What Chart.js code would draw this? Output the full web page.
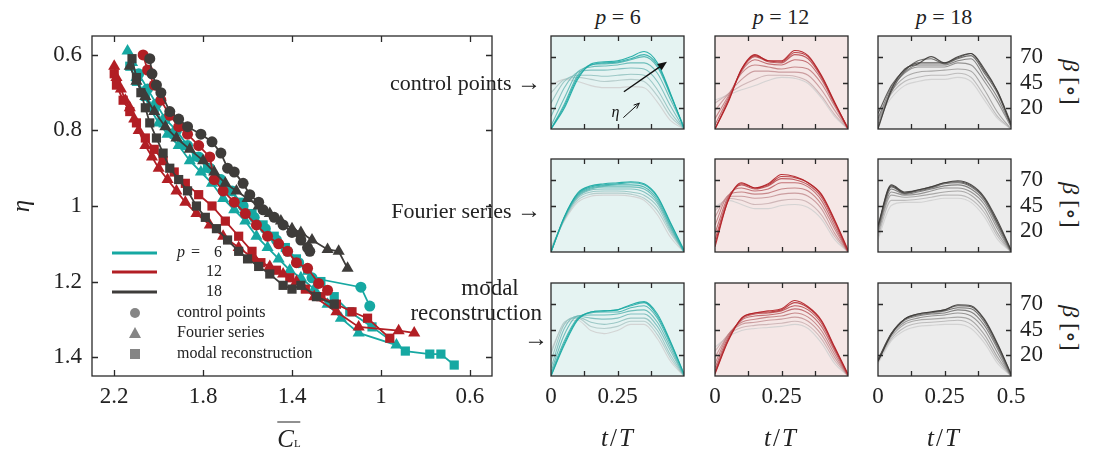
<!DOCTYPE html>
<html>
<head>
<meta charset="utf-8">
<script src="https://cdn.jsdelivr.net/npm/chart.js@4.4.1/dist/chart.umd.min.js"></script>
<style>
  body { margin: 0; background: #fff; width: 1097px; height: 454px; position: relative; overflow: hidden;
         font-family: "Liberation Serif", "DejaVu Serif", serif; color: #222; }
  canvas { position: absolute; }
  .lbl { position: absolute; white-space: nowrap; line-height: 1; font-size: 22px; }
  .c { transform: translate(-50%, -50%); }
  .r { transform: translate(-100%, -50%); }
  i { font-style: italic; }
</style>
</head>
<body>
<canvas id="pareto" width="520" height="454" style="left:0;top:0"></canvas>

<!-- axis titles, left plot -->
<div class="lbl" style="left:20px;top:206px;font-size:25px;transform:translate(-50%,-50%) rotate(-90deg)"><i>η</i></div>
<div class="lbl c" style="left:289px;top:436px;font-size:25px">
  <span style="display:inline-block;border-top:1.4px solid #222;padding-top:3px"><i>C</i><span style="font-size:11px">L</span></span>
</div>

<!-- column titles -->
<div class="lbl c" style="left:618px;top:17px"><i>p</i> = 6</div>
<div class="lbl c" style="left:781px;top:17px"><i>p</i> = 12</div>
<div class="lbl c" style="left:944px;top:17px"><i>p</i> = 18</div>

<!-- row titles -->
<div class="lbl r" style="left:541px;top:82px">control points <span style="font-size:24px">→</span></div>
<div class="lbl r" style="left:541px;top:210px">Fourier series <span style="font-size:24px">→</span></div>
<div class="lbl c" style="left:490px;top:287px;font-size:23px">modal</div>
<div class="lbl r" style="left:542px;top:312px;font-size:23px">reconstruction</div>
<div class="lbl c" style="left:536px;top:338px;font-size:24px">→</div>

<!-- bottom titles -->
<div class="lbl c" style="left:618px;top:437px;font-size:25px;letter-spacing:2px"><i>t</i>/<i>T</i></div>
<div class="lbl c" style="left:781px;top:437px;font-size:25px;letter-spacing:2px"><i>t</i>/<i>T</i></div>
<div class="lbl c" style="left:944px;top:437px;font-size:25px;letter-spacing:2px"><i>t</i>/<i>T</i></div>

<!-- beta labels -->
<div class="lbl c" style="left:1071px;top:82px;font-size:24px;transform:translate(-50%,-50%) rotate(90deg)"><i>β</i> [∘]</div>
<div class="lbl c" style="left:1071px;top:205px;font-size:24px;transform:translate(-50%,-50%) rotate(90deg)"><i>β</i> [∘]</div>
<div class="lbl c" style="left:1071px;top:328px;font-size:24px;transform:translate(-50%,-50%) rotate(90deg)"><i>β</i> [∘]</div>

<script>
// ---- Pareto fronts (CL bar vs eta) ----
const clTicks = [2.2, 1.8, 1.4, 1, 0.6];
const etaTicks = [0.6, 0.8, 1, 1.2, 1.4];

// p = 6
const cl6c  = [2.09,2.05,2.01,1.97,1.92,1.87,1.82,1.77,1.72,1.67,1.62,1.57,1.52,1.47,1.42,1.37,1.31,1.09,1.05];
const eta6c = [0.65,0.69,0.73,0.77,0.80,0.84,0.87,0.90,0.93,0.96,1.00,1.03,1.06,1.09,1.12,1.15,1.19,1.215,1.265];
const cl6f  = [2.14,2.12,2.10,2.07,2.04,2.00,1.96,1.91,1.86,1.81,1.76,1.71,1.66,1.61,1.56,1.51,1.46,1.41,1.36,1.30,1.24,1.18,1.10,0.93];
const eta6f = [0.59,0.62,0.66,0.70,0.74,0.78,0.81,0.84,0.88,0.91,0.94,0.98,1.01,1.04,1.08,1.11,1.14,1.17,1.19,1.22,1.26,1.297,1.336,1.368];
const cl6m  = [2.13,2.10,2.06,2.02,1.98,1.93,1.88,1.83,1.78,1.73,1.68,1.63,1.58,1.53,1.48,1.43,1.38,1.33,1.27,1.21,1.14,1.04,0.89,0.78,0.73,0.67];
const eta6m = [0.63,0.67,0.71,0.74,0.78,0.81,0.84,0.87,0.90,0.93,0.96,0.99,1.02,1.05,1.08,1.11,1.14,1.17,1.20,1.24,1.28,1.32,1.384,1.392,1.392,1.421];
// p = 12
const cl12c  = [2.07,2.05,2.02,1.99,1.95,1.91,1.87,1.82,1.77,1.75,1.71,1.66,1.61,1.56,1.51,1.46,1.42,1.38,1.33,1.28,1.24];
const eta12c = [0.60,0.64,0.68,0.72,0.76,0.79,0.81,0.84,0.87,0.93,0.96,0.99,1.02,1.05,1.08,1.10,1.12,1.15,1.165,1.205,1.223];
const cl12f  = [2.20,2.19,2.17,2.15,2.13,2.11,2.09,2.06,2.03,2.00,1.96,1.92,1.88,1.83,1.77,1.71,1.64,1.57,1.50,1.44,1.38,1.30,1.20,1.10,0.92,0.85];
const eta12f = [0.63,0.66,0.69,0.72,0.74,0.77,0.80,0.84,0.87,0.90,0.93,0.96,0.99,1.02,1.05,1.08,1.11,1.14,1.16,1.18,1.20,1.24,1.28,1.32,1.33,1.336];
const cl12m  = [2.20,2.19,2.16,2.13,2.10,2.06,2.02,1.98,1.93,1.88,1.82,1.76,1.70,1.64,1.58,1.54,1.47,1.41,1.34,1.27,1.20,1.13,1.06,0.96];
const eta12m = [0.65,0.68,0.72,0.75,0.78,0.82,0.85,0.88,0.91,0.94,0.97,1.00,1.04,1.08,1.12,1.15,1.17,1.19,1.22,1.24,1.26,1.28,1.297,1.35];
// p = 18
const cl18c  = [2.04,2.03,2.01,1.99,1.95,1.91,1.87,1.81,1.76,1.72,1.69,1.66,1.62,1.59,1.55,1.53,1.48,1.44,1.40,1.36,1.33,1.32];
const eta18c = [0.61,0.65,0.68,0.70,0.75,0.77,0.79,0.81,0.83,0.86,0.90,0.91,0.94,0.97,0.99,1.01,1.03,1.05,1.07,1.09,1.11,1.12];
const cl18f  = [2.13,2.10,2.06,2.02,1.97,1.92,1.86,1.80,1.75,1.70,1.65,1.60,1.55,1.50,1.45,1.40,1.36,1.31,1.24,1.19,1.15];
const eta18f = [0.63,0.67,0.71,0.75,0.79,0.82,0.85,0.88,0.91,0.94,0.96,0.98,1.00,1.02,1.04,1.06,1.07,1.09,1.115,1.12,1.165];
const cl18m  = [2.12,2.10,2.08,2.06,2.04,2.01,1.98,1.95,1.91,1.87,1.83,1.79,1.74,1.69,1.64,1.60,1.55,1.50,1.44,1.40,1.36,1.29,1.21];
const eta18m = [0.61,0.66,0.70,0.74,0.78,0.82,0.86,0.90,0.93,0.96,1.00,1.03,1.06,1.09,1.12,1.14,1.16,1.18,1.21,1.22,1.21,1.24,1.26];

// ---- pitch angle beta(t/T), grey (low eta) -> coloured (high eta) ----
const tT = [0, 0.05, 0.1, 0.15, 0.2, 0.25, 0.3, 0.35, 0.4, 0.45, 0.5];
const tTicks = [0, 0.125, 0.25, 0.375, 0.5];
const betaTicks = [20, 45, 70];

const beta_cp6 = [
  [42,48,46,42,40,40,41,40,26,8,0],
  [35,48,50,48,46,47,48,46,32,12,0],
  [25,46,52,52,51,52,53,52,38,16,0],
  [12,40,55,57,57,58,59,58,46,22,0],
  [3,30,55,60,61,62,64,64,54,28,2],
  [0,24,52,62,63,64,67,70,60,32,2],
  [0,22,50,62,64,65,68,72,62,33,1],
  [0,20,48,63,65,66,70,75,64,34,0]
];
const beta_cp12 = [
  [28,33,38,42,47,50,49,44,30,12,0],
  [25,34,42,48,52,52,51,46,32,14,0],
  [18,34,48,56,56,55,55,52,38,18,0],
  [10,32,54,62,60,58,60,58,44,22,0],
  [4,30,56,67,63,62,67,64,48,24,1],
  [0,28,57,70,65,64,72,68,50,25,1],
  [0,27,58,71,66,65,74,70,51,25,0],
  [0,26,58,72,66,66,76,71,52,26,0]
];
const beta_cp18 = [
  [10,30,42,46,48,48,50,46,28,10,0],
  [12,34,46,50,52,52,54,50,32,12,0],
  [8,36,50,55,56,57,58,56,38,16,0],
  [5,38,54,60,60,60,64,62,46,26,2],
  [10,40,55,62,62,62,66,68,50,30,3],
  [2,36,56,66,68,63,68,71,54,34,4],
  [15,42,57,64,64,64,69,73,56,36,6],
  [0,38,58,63,70,64,70,73,58,36,4]
];
const beta_fs6 = [
  [5,30,48,54,55,55,54,50,36,14,0],
  [3,31,50,56,57,57,56,52,40,18,0],
  [2,32,52,58,59,59,58,55,44,20,0],
  [0,32,53,60,61,61,61,58,47,22,0],
  [0,33,54,61,63,63,63,61,49,24,0],
  [0,33,55,62,64,65,65,63,51,25,0],
  [0,34,56,63,65,66,67,65,53,27,1],
  [0,34,57,64,66,67,68,66,54,28,2]
];
const beta_fs12 = [
  [44,50,46,42,42,45,46,43,32,12,0],
  [40,52,50,46,47,50,51,48,36,15,0],
  [34,54,54,52,53,56,57,54,42,18,0],
  [26,55,58,56,57,61,62,59,46,22,0],
  [18,54,62,59,61,67,67,63,50,25,0],
  [12,52,65,61,64,71,70,65,53,28,0],
  [8,50,66,62,65,73,72,67,55,30,1],
  [5,50,67,62,66,75,73,67,56,31,2]
];
const beta_fs18 = [
  [12,45,48,48,50,52,52,48,34,12,0],
  [15,50,50,51,53,55,55,51,38,15,0],
  [18,55,53,54,56,58,59,55,42,18,0],
  [20,58,55,56,59,62,62,58,46,22,0],
  [22,61,56,58,61,64,65,61,49,25,0],
  [24,63,57,59,62,66,67,63,51,27,1],
  [25,64,57,60,63,67,68,64,52,28,2],
  [26,65,58,60,63,67,69,65,53,30,2]
];
const beta_mr6 = [
  [25,50,54,44,41,44,50,50,36,14,0],
  [22,52,56,48,46,48,53,53,40,17,0],
  [15,50,57,52,50,52,56,56,44,20,0],
  [8,46,58,56,55,56,60,60,48,24,0],
  [4,40,58,59,59,60,63,64,52,27,0],
  [2,34,56,61,62,62,66,68,56,30,1],
  [0,32,55,62,63,64,68,71,58,32,2],
  [0,30,54,62,63,64,69,72,60,33,2]
];
const beta_mr12 = [
  [28,38,44,46,47,48,50,46,32,12,0],
  [24,40,47,49,50,51,53,49,36,15,0],
  [18,40,50,52,54,55,57,53,40,18,0],
  [12,40,52,55,57,58,61,57,44,21,0],
  [8,38,54,58,59,61,65,61,48,24,0],
  [5,36,55,60,61,63,68,64,51,26,1],
  [3,35,56,61,62,64,71,66,53,27,1],
  [2,34,56,61,63,65,73,67,54,28,2]
];
const beta_mr18 = [
  [12,34,44,48,49,50,50,46,32,12,0],
  [14,36,47,51,52,53,54,50,36,15,0],
  [15,38,50,54,55,56,57,54,40,18,0],
  [16,40,52,56,58,59,61,58,45,22,0],
  [16,41,54,58,60,61,64,62,49,26,0],
  [15,41,55,59,61,63,66,65,52,28,1],
  [15,41,55,60,62,64,68,67,54,30,2],
  [14,40,55,60,62,64,69,68,55,31,2]
];

// eta arrow in the first panel, in data units (t/T, beta)
const etaArrow = [0.274, 36, 0.436, 65];
const etaHint = [0.272, 11, 0.332, 25];

const TEAL = [22, 168, 162], RED = [178, 30, 36], DARK = [62, 60, 58];
const rgb = c => `rgb(${c[0]},${c[1]},${c[2]})`;
const tickFont = { family: '"Liberation Serif", "DejaVu Serif", serif', size: 23 };

function pts(xs, ys) { return xs.map((x, i) => ({ x: x, y: ys[i] })); }

// no extra room for overhanging first/last tick labels
function noPad(s) { s.paddingTop = 0; s.paddingBottom = 0; s.paddingLeft = 0; s.paddingRight = 0; }

// frame with inward ticks on all four sides
const framePlugin = {
  id: 'frame',
  afterDatasetsDraw(chart, args, opts) {
    const { ctx, chartArea: a } = chart;
    const sx = chart.scales.x, sy = chart.scales.y;
    const len = opts.len;
    ctx.save();
    ctx.strokeStyle = '#2a2a2a';
    ctx.lineWidth = 1.3;
    ctx.beginPath();
    (opts.xt || []).forEach(v => {
      const px = Math.round(sx.getPixelForValue(v)) + 0.5;
      if (px <= a.left + 2 || px >= a.right - 2) return;
      ctx.moveTo(px, a.bottom); ctx.lineTo(px, a.bottom - len);
      ctx.moveTo(px, a.top); ctx.lineTo(px, a.top + len);
    });
    (opts.yt || []).forEach(v => {
      const py = Math.round(sy.getPixelForValue(v)) + 0.5;
      if (py <= a.top + 2 || py >= a.bottom - 2) return;
      ctx.moveTo(a.left, py); ctx.lineTo(a.left + len, py);
      ctx.moveTo(a.right, py); ctx.lineTo(a.right - len, py);
    });
    ctx.stroke();
    ctx.strokeRect(a.left, a.top, a.right - a.left, a.bottom - a.top);
    ctx.restore();
  }
};

const bgPlugin = {
  id: 'panelBg',
  beforeDatasetsDraw(chart, args, opts) {
    const { ctx, chartArea: a } = chart;
    ctx.save();
    ctx.fillStyle = opts.color;
    ctx.fillRect(a.left, a.top, a.right - a.left, a.bottom - a.top);
    ctx.restore();
  }
};

// legend of the Pareto plot
const paretoLegend = {
  id: 'paretoLegend',
  afterDraw(chart) {
    const ctx = chart.ctx;
    ctx.save();
    const rows = [[TEAL, '6', 253], [RED, '12', 272], [DARK, '18', 292]];
    rows.forEach(([c, txt, y]) => {
      ctx.strokeStyle = rgb(c); ctx.lineWidth = 3;
      ctx.beginPath(); ctx.moveTo(112, y); ctx.lineTo(157, y); ctx.stroke();
      ctx.fillStyle = '#222';
      ctx.font = '16px "Liberation Serif", serif';
      ctx.textBaseline = 'middle';
      ctx.textAlign = 'right';
      ctx.fillText(txt, 222, y);
    });
    ctx.textAlign = 'left';
    ctx.font = 'italic 16px "Liberation Serif", serif';
    ctx.fillText('p', 177, 253);
    ctx.font = '16px "Liberation Serif", serif';
    ctx.fillText('=', 191, 253);
    ctx.fillStyle = '#858585';
    ctx.beginPath(); ctx.arc(135, 313, 5, 0, Math.PI * 2); ctx.fill();
    ctx.beginPath(); ctx.moveTo(135, 327); ctx.lineTo(141, 338); ctx.lineTo(129, 338); ctx.closePath(); ctx.fill();
    ctx.fillRect(130, 349, 10, 10);
    ctx.fillStyle = '#222';
    ctx.font = '16px "Liberation Serif", serif';
    ctx.fillText('control points', 177, 313);
    ctx.fillText('Fourier series', 177, 333);
    ctx.fillText('modal reconstruction', 177, 354);
    ctx.restore();
  }
};

function frontSet(xs, ys, col, shape) {
  return {
    data: pts(xs, ys), showLine: true, borderColor: rgb(col), backgroundColor: rgb(col),
    borderWidth: 1.8, pointStyle: shape, pointRadius: shape === 'circle' ? 5.5 : (shape === 'rect' ? 6.5 : 7),
    pointBorderWidth: 0
  };
}

new Chart(document.getElementById('pareto'), {
  type: 'scatter',
  data: {
    datasets: [
      frontSet(cl18c, eta18c, DARK, 'circle'),
      frontSet(cl18f, eta18f, DARK, 'triangle'),
      frontSet(cl18m, eta18m, DARK, 'rect'),
      frontSet(cl12c, eta12c, RED, 'circle'),
      frontSet(cl12f, eta12f, RED, 'triangle'),
      frontSet(cl12m, eta12m, RED, 'rect'),
      frontSet(cl6c, eta6c, TEAL, 'circle'),
      frontSet(cl6f, eta6f, TEAL, 'triangle'),
      frontSet(cl6m, eta6m, TEAL, 'rect')
    ]
  },
  options: {
    responsive: false, animation: false, devicePixelRatio: 1,
    layout: { padding: { top: 36, right: 28, left: 0, bottom: 0 } },
    plugins: { legend: { display: false }, tooltip: { enabled: false },
               frame: { len: 6, xt: clTicks, yt: etaTicks } },
    scales: {
      x: { type: 'linear', reverse: true, min: 0.5, max: 2.3,
           afterBuildTicks: s => { s.ticks = clTicks.map(v => ({ value: v })); },
           afterFit: s => { s.height = 78; noPad(s); },
           grid: { display: false, drawTicks: false }, border: { display: false },
           ticks: { padding: 7, font: tickFont, color: '#222', maxRotation: 0, autoSkip: false, callback: v => String(v) } },
      y: { type: 'linear', reverse: true, min: 0.55, max: 1.45,
           afterBuildTicks: s => { s.ticks = etaTicks.map(v => ({ value: v })); },
           afterFit: s => { s.width = 92; noPad(s); },
           grid: { display: false, drawTicks: false }, border: { display: false },
           ticks: { padding: 10, font: tickFont, color: '#222', autoSkip: false, callback: v => String(v) } }
    }
  },
  plugins: [framePlugin, paretoLegend]
});

// ---- 3 x 3 grid of beta curves ----
const panelCurves = [
  [beta_cp6, beta_cp12, beta_cp18],
  [beta_fs6, beta_fs12, beta_fs18],
  [beta_mr6, beta_mr12, beta_mr18]
];
const panelColors = [TEAL, RED, DARK];
const panelBgs = ['#e5f3f2', '#f5e7e6', '#ececec'];
const colLeft = [551, 715, 878], rowTop = [36, 159, 283], PW = 133, PH = 93;
const GREY = [208, 208, 208];

function shade(c, k, n) {
  const f = Math.pow(k / (n - 1), 0.9);
  return `rgba(${c.map((v, i) => Math.round(GREY[i] + (v - GREY[i]) * f)).join(',')},0.9)`;
}

const arrowPlugin = {
  id: 'etaArrow',
  afterDatasetsDraw(chart) {
    const { ctx } = chart;
    const sx = chart.scales.x, sy = chart.scales.y;
    const arrow = (a, head, w, filled) => {
      const x0 = sx.getPixelForValue(a[0]), y0 = sy.getPixelForValue(a[1]);
      const x1 = sx.getPixelForValue(a[2]), y1 = sy.getPixelForValue(a[3]);
      const ang = Math.atan2(y1 - y0, x1 - x0);
      ctx.lineWidth = w;
      ctx.beginPath(); ctx.moveTo(x0, y0);
      ctx.lineTo(filled ? x1 - head * 0.8 * Math.cos(ang) : x1, filled ? y1 - head * 0.8 * Math.sin(ang) : y1);
      ctx.stroke();
      ctx.beginPath();
      ctx.moveTo(x1 - head * Math.cos(ang - 0.4), y1 - head * Math.sin(ang - 0.4));
      ctx.lineTo(x1, y1);
      ctx.lineTo(x1 - head * Math.cos(ang + 0.4), y1 - head * Math.sin(ang + 0.4));
      if (filled) { ctx.closePath(); ctx.fill(); } else ctx.stroke();
    };
    ctx.save();
    ctx.strokeStyle = '#111'; ctx.fillStyle = '#111';
    arrow(etaArrow, 10, 1.4, true);
    arrow(etaHint, 6, 1, false);
    ctx.font = 'italic 16px "Liberation Serif", serif';
    ctx.textAlign = 'right'; ctx.textBaseline = 'middle';
    ctx.fillText('η', sx.getPixelForValue(etaHint[0]) - 4, sy.getPixelForValue(etaHint[1] + 5));
    ctx.restore();
  }
};

panelCurves.forEach((row, r) => {
  row.forEach((curves, c) => {
    const hasX = r === 2, hasY = c === 2;
    const cv = document.createElement('canvas');
    const w = PW + 25 + (hasY ? 50 : 25), h = PH + 6 + (hasX ? 45 : 6);
    cv.width = w; cv.height = h;
    cv.style.left = (colLeft[c] - 25) + 'px';
    cv.style.top = (rowTop[r] - 6) + 'px';
    document.body.appendChild(cv);
    const n = curves.length;
    const sets = curves.map((ys, k) => ({
      data: pts(tT, ys), borderColor: shade(panelColors[c], k, n), borderWidth: 1.1,
      pointRadius: 0, cubicInterpolationMode: 'monotone', fill: false
    })).reverse();
    const xLabels = c === 2 ? [0, 0.25, 0.5] : [0, 0.25];
    new Chart(cv, {
      type: 'line',
      data: { datasets: sets },
      options: {
        responsive: false, animation: false, devicePixelRatio: 1,
        layout: { padding: { left: 25, top: 6, right: hasY ? 0 : 25, bottom: hasX ? 0 : 6 } },
        plugins: { legend: { display: false }, tooltip: { enabled: false },
                   frame: { len: 5, xt: tTicks, yt: betaTicks },
                   panelBg: { color: panelBgs[c] } },
        scales: {
          x: { type: 'linear', min: 0, max: 0.5, display: hasX,
               afterBuildTicks: s => { s.ticks = tTicks.map(v => ({ value: v })); },
               afterFit: s => { if (hasX) s.height = 45; noPad(s); },
               grid: { display: false, drawTicks: false }, border: { display: false },
               ticks: { padding: 7, font: tickFont, color: '#222', maxRotation: 0, autoSkip: false,
                        callback: v => xLabels.includes(v) ? String(v) : '' } },
          y: { type: 'linear', min: 0, max: 90, display: hasY, position: 'right',
               afterBuildTicks: s => { s.ticks = betaTicks.map(v => ({ value: v })); },
               afterFit: s => { if (hasY) s.width = 50; noPad(s); },
               grid: { display: false, drawTicks: false }, border: { display: false },
               ticks: { padding: 9, font: tickFont, color: '#222', autoSkip: false, callback: v => String(v) } }
        }
      },
      plugins: r === 0 && c === 0 ? [bgPlugin, framePlugin, arrowPlugin] : [bgPlugin, framePlugin]
    });
  });
});
</script>
</body>
</html>
